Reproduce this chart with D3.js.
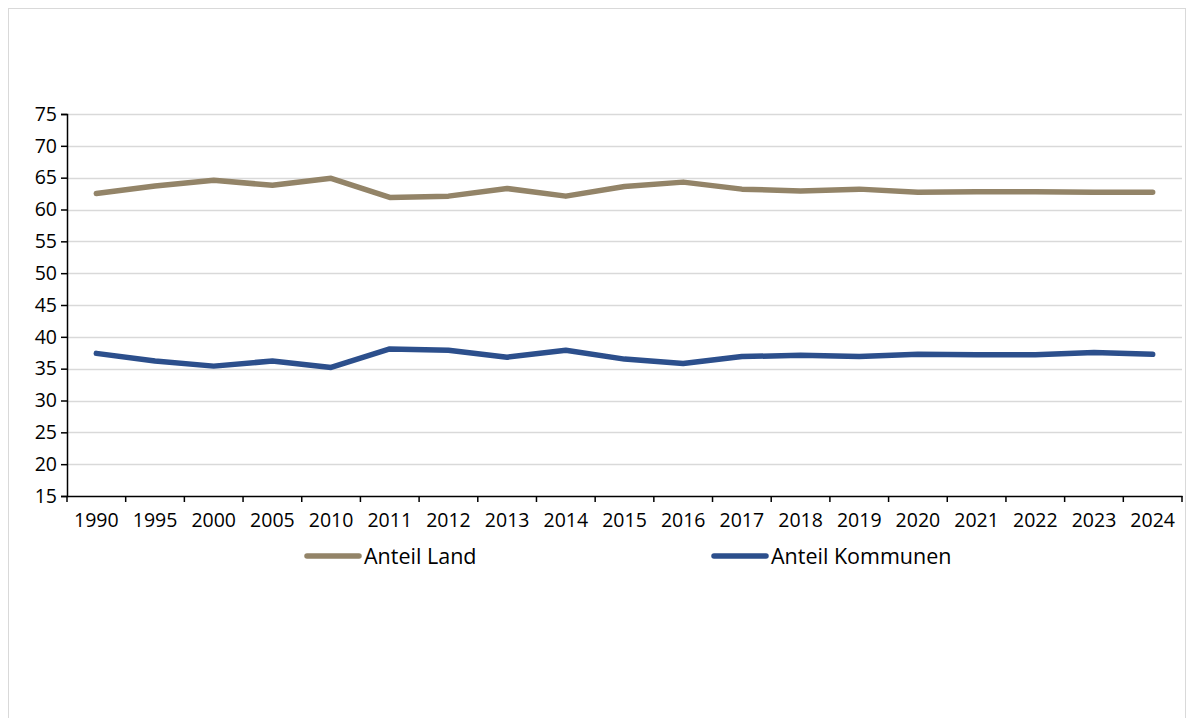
<!DOCTYPE html>
<html>
<head>
<meta charset="utf-8">
<script src="https://cdn.jsdelivr.net/npm/d3@7/dist/d3.min.js"></script>
<style>
html,body{margin:0;padding:0;background:#fff;}
svg{display:block;}
text{font-family:"Open Sans",sans-serif;fill:#000;}
</style>
</head>
<body>
<script>
const years = ["1990","1995","2000","2005","2010","2011","2012","2013","2014","2015","2016","2017","2018","2019","2020","2021","2022","2023","2024"];
const anteilLand = [62.5,63.7,64.6,63.8,64.9,61.9,62.1,63.3,62.1,63.6,64.3,63.2,62.9,63.2,62.7,62.8,62.8,62.7,62.7];
const anteilKommunen = [37.4,36.2,35.4,36.2,35.2,38.1,37.9,36.8,37.9,36.5,35.8,36.9,37.1,36.9,37.25,37.2,37.2,37.55,37.25];
const yTicks = [15,20,25,30,35,40,45,50,55,60,65,70,75];
const seriesNames = ["Anteil Land","Anteil Kommunen"];
const seriesColors = ["#938468","#2c4f8c"];

(function(){
const W = 1192, H = 718;
const svg = d3.select("body").append("svg").attr("width", W).attr("height", H);

svg.append("rect").attr("x",8.5).attr("y",8.5).attr("width",1177).attr("height",720)
  .attr("fill","none").attr("stroke","#d9d9d9").attr("stroke-width",1);

const mLeft = 67, mRight = 1182, mTop = 114, mBottom = 496;
const x = d3.scaleBand().domain(years).range([mLeft, mRight]);
const y = d3.scaleLinear().domain([15,75]).range([mBottom, mTop]);

svg.append("g").selectAll("line").data(yTicks.filter(d=>d>15)).join("line")
  .attr("x1", mLeft).attr("x2", mRight)
  .attr("y1", d=>Math.round(y(d))+0.5).attr("y2", d=>Math.round(y(d))+0.5)
  .attr("stroke","#d9d9d9").attr("stroke-width",1.5);

const yAxis = d3.axisLeft(y).tickValues(yTicks).tickSize(6).tickPadding(4);
const gy = svg.append("g").attr("transform",`translate(${mLeft},0)`).call(yAxis);
gy.select(".domain").attr("stroke","#000").attr("stroke-width",1.5);
gy.selectAll(".tick line").attr("stroke","#000").attr("stroke-width",1.5);
gy.selectAll("text").style("font-size","19.5px").style("font-family","'Open Sans',sans-serif").attr("fill","#000");

const xAxis = d3.axisBottom(x).tickSize(0).tickPadding(17);
const gx = svg.append("g").attr("transform",`translate(0,${mBottom})`).call(xAxis);
gx.select(".domain").attr("stroke","#000").attr("stroke-width",1.5);
gx.selectAll("text").style("font-size","19.5px").style("font-family","'Open Sans',sans-serif").attr("fill","#000");
const bounds = years.map(d=>x(d)).concat([x(years[years.length-1])+x.bandwidth()]);
svg.append("g").selectAll("line").data(bounds).join("line")
  .attr("x1",d=>d).attr("x2",d=>d).attr("y1",mBottom).attr("y2",mBottom+6)
  .attr("stroke","#000").attr("stroke-width",1.5);

const line = d3.line().x((d,i)=>x(years[i])+x.bandwidth()/2).y(d=>y(d));
[anteilLand, anteilKommunen].forEach((s,i)=>{
  svg.append("path").datum(s).attr("d",line).attr("fill","none")
    .attr("stroke",seriesColors[i]).attr("stroke-width",5.5)
    .attr("stroke-linejoin","round").attr("stroke-linecap","round");
});

const legX = [307, 714];
const legY = 556;
seriesNames.forEach((n,i)=>{
  svg.append("line").attr("x1",legX[i]).attr("x2",legX[i]+52).attr("y1",legY).attr("y2",legY)
    .attr("stroke",seriesColors[i]).attr("stroke-width",5.5).attr("stroke-linecap","round");
  svg.append("text").attr("x",legX[i]+57).attr("y",legY).attr("dy","0.35em")
    .style("font-size","21.5px").text(n);
});
})();
</script>
</body>
</html>
